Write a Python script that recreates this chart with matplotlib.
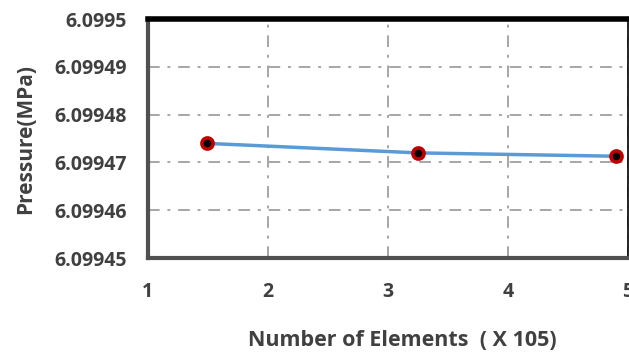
import matplotlib.pyplot as plt
import numpy as np

# Mesh sizes (x 10^5 elements) and resulting pressure
elements = [1.49, 3.25, 4.9]
pressure = [6.099474, 6.099472, 6.0994713]

x_ticks = [1, 2, 3, 4, 5]
y_ticks = [6.09945, 6.09946, 6.09947, 6.09948, 6.09949, 6.0995]
y_ticklabels = ['6.09945', '6.09946', '6.09947', '6.09948', '6.09949', '6.0995']

plt.rcParams['font.family'] = ['Open Sans', 'DejaVu Sans']

fig = plt.figure(figsize=(6.29, 3.53), dpi=100)
ax = fig.add_axes([0.235, 0.269, 0.763, 0.677])

ax.plot(elements, pressure, color='#5b9bd5', lw=2.5, zorder=3)
ax.plot(elements, pressure, 'o', ms=8, mfc='black', mec='#c00000', mew=2.6, zorder=4)

ax.set_xlim(1, 5)
ax.set_ylim(6.09945, 6.0995)
ax.set_xticks(x_ticks)
ax.set_yticks(y_ticks)
ax.set_yticklabels(y_ticklabels)
ax.tick_params(length=0, labelsize=14, labelcolor='#404040')
ax.tick_params(axis='y', pad=15)
ax.tick_params(axis='x', pad=17)
for t in ax.get_xticklabels() + ax.get_yticklabels():
    t.set_fontweight('bold')

ax.grid(True, color='#a6a6a6', lw=1.4, linestyle=(0, (6, 4, 1.5, 4)))
ax.set_axisbelow(True)

ax.spines['top'].set_linewidth(4)
ax.spines['top'].set_color('black')
ax.spines['right'].set_linewidth(1.2)
ax.spines['left'].set_linewidth(3)
ax.spines['left'].set_color('#505050')
ax.spines['bottom'].set_linewidth(3)
ax.spines['bottom'].set_color('#505050')

ax.set_ylabel('Pressure(MPa)', fontsize=15, fontweight='bold', color='#404040')
ax.yaxis.set_label_coords(-0.232, 0.5)
ax.set_xlabel('Number of Elements  ( X 105)', fontsize=15.5, fontweight='bold', color='#404040')
ax.xaxis.set_label_coords(0.53, -0.30)

plt.savefig('out.png', dpi=100)
